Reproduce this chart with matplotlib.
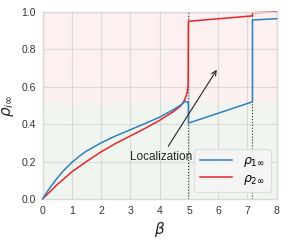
import matplotlib
matplotlib.use("Agg")
import matplotlib.pyplot as plt

# data
beta1 = [0, 0.1, 0.25, 0.5, 0.75, 1.0, 1.25, 1.5, 2.0, 2.5, 3.0, 3.5, 4.0, 4.5, 4.75, 4.87, 4.95, 4.98, 4.98, 7.17, 7.17, 8.0]
rho1 = [0, 0.025, 0.06, 0.112, 0.157, 0.195, 0.228, 0.256, 0.3, 0.337, 0.37, 0.403, 0.437, 0.48, 0.505, 0.522, 0.518, 0.51, 0.405, 0.519, 0.956, 0.963]
beta2 = [0, 0.5, 1.0, 1.5, 2.0, 2.5, 3.0, 3.5, 4.0, 4.5, 4.7, 4.8, 4.88, 4.94, 4.97, 4.98, 7.17, 7.17, 8.0]
rho2 = [0, 0.077, 0.145, 0.2, 0.252, 0.297, 0.337, 0.377, 0.42, 0.47, 0.495, 0.515, 0.54, 0.57, 0.61, 0.949, 0.978, 0.995, 0.999]
transitions = [4.98, 7.17]
xticks = [0, 1, 2, 3, 4, 5, 6, 7, 8]
yticks = [0.0, 0.2, 0.4, 0.6, 0.8, 1.0]

plt.rcParams['font.family'] = ['Liberation Sans', 'DejaVu Sans']
plt.rcParams['mathtext.fontset'] = 'dejavusans'

fig = plt.figure(figsize=(2.88, 2.4), dpi=100)
ax = fig.add_axes([0.148, 0.171, 0.813, 0.780])

ax.axhspan(0.515, 1.0, color='#fdf0f0', zorder=0)
ax.axhspan(0.0, 0.515, color='#f0f6ef', zorder=0)
ax.set_axisbelow(True)
ax.grid(True, color='#d9d9d9', lw=0.8)

for t in transitions:
    ax.axvline(t, color='#333333', ls=':', lw=0.8, zorder=1)

ax.plot(beta1, rho1, color='#2f7fc0', lw=1.1, label=r'$\rho_{1\infty}$', zorder=3, clip_on=False)
ax.plot(beta2, rho2, color='#e3262a', lw=1.1, label=r'$\rho_{2\infty}$', zorder=2, clip_on=False)

ax.annotate('Localization', xy=(5.95, 0.69), xytext=(4.05, 0.222),
            ha='center', va='center', fontsize=8.5, color='#262626',
            arrowprops=dict(arrowstyle='->', color='#262626', lw=0.8, shrinkA=2, shrinkB=0))

ax.set_xlim(0, 8)
ax.set_ylim(0, 1.0)
ax.set_xticks(xticks)
ax.set_yticks(yticks)
ax.set_xticklabels([str(v) for v in xticks])
ax.set_yticklabels([f'{v:.1f}' for v in yticks])
ax.tick_params(labelsize=7.5, colors='#333333', length=0, pad=5)
for s in ax.spines.values():
    s.set_color('#d9d9d9')
    s.set_linewidth(1.0)

ax.set_xlabel(r'$\beta$', fontsize=11, color='#262626', labelpad=3)
ax.set_ylabel(r'$\rho_{i\infty}$', fontsize=11, color='#262626', labelpad=4)

leg = ax.legend(loc='lower right', fontsize=9, frameon=True, facecolor='#f5f5f5',
                edgecolor='#dddddd', framealpha=0.9, handlelength=2.6, borderpad=0.45,
                labelspacing=0.3, handletextpad=0.9, borderaxespad=0,
                bbox_to_anchor=(0.975, 0.035))

fig.savefig('out.png', dpi=100)
